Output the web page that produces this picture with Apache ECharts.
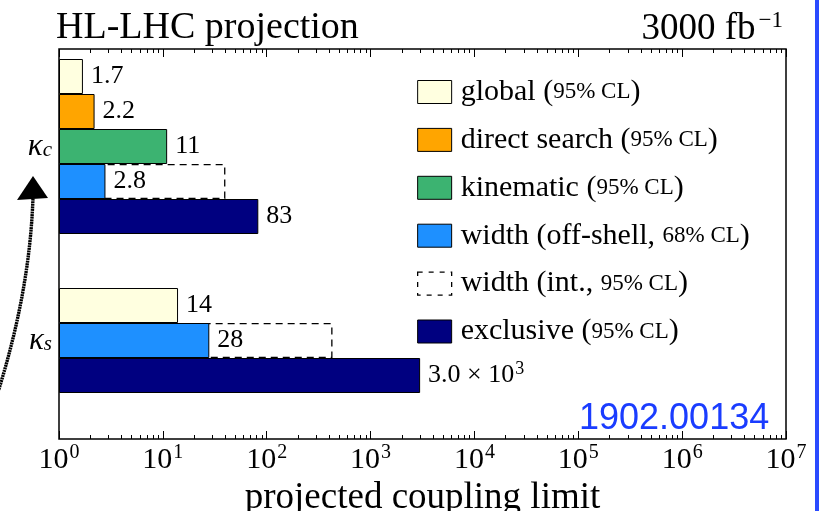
<!DOCTYPE html>
<html>
<head>
<meta charset="utf-8">
<script src="https://cdn.jsdelivr.net/npm/echarts@6/dist/echarts.min.js"></script>
<style>
html,body{margin:0;padding:0;background:#fff;}
#chart{width:821px;height:511px;}
</style>
</head>
<body>
<div id="chart"></div>
<script>
// ---------------- data ----------------
const categoriesC = ['global', 'direct search', 'kinematic', 'width', 'exclusive'];
const categoriesS = ['global', 'width', 'exclusive'];
// series in drawing order (dashed interference bar drawn under the off-shell bar)
const seriesNames = ['global', 'direct search', 'kinematic', 'width (int.)', 'width (off-shell)', 'exclusive'];
const seriesRow   = ['global', 'direct search', 'kinematic', 'width', 'width', 'exclusive'];
const valuesC = [1.7, 2.2, 11, 40, 2.8, 83];
const valuesS = [14, null, null, 430, 28, 3000];
const showValue = [true, true, true, false, true, true];
const legendOrder = ['global', 'direct search', 'kinematic', 'width (off-shell)', 'width (int.)', 'exclusive'];
const legendText = {
  'global': 'global ({s|95% CL})',
  'direct search': 'direct search ({s|95% CL})',
  'kinematic': 'kinematic ({s|95% CL})',
  'width (off-shell)': 'width (off-shell, {s|68% CL})',
  'width (int.)': 'width (int., {s|95% CL})',
  'exclusive': 'exclusive ({s|95% CL})'
};
const xMin = 1, xMax = 1e7;
const majorTicks = [1, 10, 100, 1000, 10000, 100000, 1000000, 10000000];
const titleLeft = 'HL-LHC projection';
const titleRight = '3000 fb{sup|−1}';
const xName = 'projected coupling limit';
const arxivId = '1902.00134';

// ---------------- styles ----------------
const SERIF = '"Liberation Serif", "DejaVu Serif", serif';
const colors = {
  'global': '#FFFFE0',
  'direct search': '#FFA500',
  'kinematic': '#3CB371',
  'width (off-shell)': '#1E90FF',
  'width (int.)': '#FFFFFF',
  'exclusive': '#000080'
};
const minorTicks = [];
for (let k = 0; k < 7; k++) for (let m = 2; m <= 9; m++) minorTicks.push(m * Math.pow(10, k));

const G = {left: 59, width: 727};

function valueLabel(v) {
  if (v >= 1000) {
    const e = Math.floor(Math.log10(v));
    return (v / Math.pow(10, e)).toFixed(1) + ' × 10{e|' + e + '}';
  }
  return String(v);
}

const chart = echarts.init(document.getElementById('chart'), null, {renderer: 'canvas'});

function baseLogAxis(extra) {
  return Object.assign({
    type: 'log', logBase: 10, min: xMin, max: xMax,
    axisLine: {show: false}, splitLine: {show: false}, minorTick: {show: false},
    minorSplitLine: {show: false}
  }, extra);
}

const xAxes = [
  baseLogAxis({gridIndex: 0, position: 'bottom',
    axisTick: {show: true, inside: true, length: 8, customValues: majorTicks, lineStyle: {color: '#000', width: 1}},
    axisLabel: {show: true, customValues: majorTicks, margin: 4, color: '#000',
      fontFamily: SERIF, fontSize: 30,
      formatter: function (v) { return '10{e|' + Math.round(Math.log10(v)) + '}'; },
      rich: {e: {fontFamily: SERIF, fontSize: 20, padding: [0, 0, 14, 1], color: '#000'}}
    },
    name: xName, nameLocation: 'middle', nameGap: 36,
    nameTextStyle: {fontFamily: SERIF, fontSize: 37, color: '#000'}
  }),
  baseLogAxis({gridIndex: 0, position: 'top',
    axisTick: {show: true, inside: true, length: 8, customValues: majorTicks, lineStyle: {color: '#000', width: 1}},
    axisLabel: {show: false}
  }),
  baseLogAxis({gridIndex: 0, position: 'bottom',
    axisTick: {show: true, inside: true, length: 4, customValues: minorTicks, lineStyle: {color: '#000', width: 1}},
    axisLabel: {show: false}
  }),
  baseLogAxis({gridIndex: 0, position: 'top',
    axisTick: {show: true, inside: true, length: 4, customValues: minorTicks, lineStyle: {color: '#000', width: 1}},
    axisLabel: {show: false}
  }),
  baseLogAxis({gridIndex: 1, show: false}),
  baseLogAxis({gridIndex: 2, show: false})
];

function catAxis(gridIndex, cats, sub) {
  const mid = Math.floor(cats.length / 2);
  return {
    type: 'category', gridIndex: gridIndex, data: cats, inverse: true,
    axisLine: {show: false}, axisTick: {show: false}, splitLine: {show: false},
    axisLabel: {show: true, interval: 0, margin: 7, color: '#000',
      formatter: function (v, i) { return i === mid ? '{k|κ}{s|' + sub + '}' : ''; },
      rich: {
        k: {fontFamily: SERIF, fontStyle: 'italic', fontSize: 31, color: '#000'},
        s: {fontFamily: SERIF, fontStyle: 'italic', fontSize: 21, color: '#000', padding: [8, 0, 0, 0]}
      }
    }
  };
}

const yAxes = [
  {type: 'value', gridIndex: 0, show: false},
  catAxis(1, categoriesC, 'c'),
  catAxis(2, categoriesS, 's')
];

const series = [];
function addGroup(values, xi, yi) {
  seriesNames.forEach(function (name, i) {
    const v = values[i];
    if (v === null || v === undefined) return;
    const dashed = name === 'width (int.)';
    series.push({
      type: 'bar', name: name, xAxisIndex: xi, yAxisIndex: yi,
      data: [[v, seriesRow[i]]],
      barWidth: 35, barGap: '-100%', barCategoryGap: 0,
      itemStyle: {color: colors[name], borderColor: '#000', borderWidth: dashed ? 1.3 : 1,
        borderType: dashed ? [7, 5] : 'solid'},
      label: {show: showValue[i], position: 'right', distance: 8, color: '#000',
        fontFamily: SERIF, fontSize: 26,
        formatter: function (p) { return valueLabel(p.value[0]); },
        rich: {e: {fontFamily: SERIF, fontSize: 18, padding: [0, 0, 12, 1], color: '#000'}}
      },
      emphasis: {disabled: true},
      animation: false
    });
  });
}
addGroup(valuesC, 4, 1);
addGroup(valuesS, 5, 2);

const option = {
  animation: false,
  backgroundColor: '#fff',
  title: [
    {text: titleLeft, left: 56, top: 9, padding: 0,
      textStyle: {fontFamily: SERIF, fontSize: 38, fontWeight: 'normal', color: '#000'}},
    {text: titleRight, right: 38, top: 9, padding: 0,
      textStyle: {fontFamily: SERIF, fontSize: 37, fontWeight: 'normal', color: '#000',
        rich: {sup: {fontFamily: SERIF, fontSize: 23, padding: [0, 0, 18, 3], color: '#000'}}}},
    {text: arxivId, left: 579, top: 401, padding: 0,
      textStyle: {fontFamily: '"Liberation Sans", Arial, sans-serif', fontSize: 36, fontWeight: 'normal', color: '#1a3cff'}}
  ],
  legend: {
    data: legendOrder.map(function (n) {
      return n === 'width (int.)' ? {name: n, itemStyle: {borderType: [5, 6], borderColor: '#000', borderWidth: 1.3}} : {name: n};
    }),
    orient: 'vertical', left: 417, top: 77, padding: 0,
    icon: 'rect', itemWidth: 34, itemHeight: 23, itemGap: 17.9,
    selectedMode: false,
    itemStyle: {borderColor: '#000', borderWidth: 1},
    formatter: function (n) { return legendText[n]; },
    textStyle: {fontFamily: SERIF, fontSize: 30, color: '#000', lineHeight: 30, padding: [0, 0, 0, 4],
      rich: {s: {fontFamily: SERIF, fontSize: 23, color: '#000', lineHeight: 30}}}
  },
  grid: [
    {left: G.left, width: G.width, top: 49, height: 390, show: true, borderColor: '#000', borderWidth: 1.5,
      backgroundColor: 'transparent', containLabel: false, outerBoundsMode: 'none'},
    {left: G.left, width: G.width, top: 59, height: 175, containLabel: false, outerBoundsMode: 'none'},
    {left: G.left, width: G.width, top: 288, height: 105, containLabel: false, outerBoundsMode: 'none'}
  ],
  xAxis: xAxes,
  yAxis: yAxes,
  series: series,
  graphic: [
    {type: 'bezierCurve', silent: true,
      shape: {x1: -2, y1: 392, cpx1: 30, cpy1: 290, x2: 33, y2: 197},
      style: {stroke: '#000', lineWidth: 3.4, fill: null, lineDash: [2, 0.6]}},
    {type: 'polygon', silent: true,
      shape: {points: [[33, 176], [17, 200], [48, 198]]},
      style: {fill: '#000'}},
    {type: 'rect', silent: true, shape: {x: 815, y: 0, width: 4, height: 511},
      style: {fill: '#2a4bff'}}
  ]
};
chart.setOption(option);
</script>
</body>
</html>
